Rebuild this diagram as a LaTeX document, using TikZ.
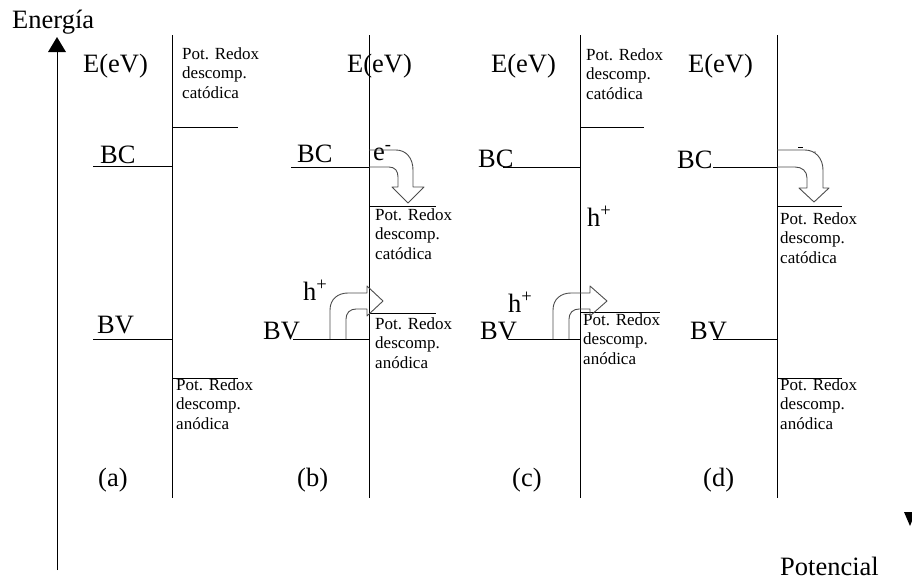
\documentclass[tikz,border=0pt]{standalone}
\usepackage{fontspec}
\setmainfont{Liberation Serif}
\begin{document}
\begin{tikzpicture}[x=1pt,y=-1pt,
  big/.style={font=\fontsize{26.5}{30}\selectfont, inner sep=0pt, anchor=base west},
  small/.style={font=\fontsize{17}{19.5}\selectfont, inner sep=0pt, anchor=north west, align=left},
  lvl/.style={line width=1pt, black},
  blockarrow/.style={line width=0.9pt, black!70, line join=round}
]
\useasboundingbox (0,0) rectangle (912,579);

% main axis
\draw[lvl] (57,570) -- (57,50);
\fill (48,52) -- (57,37) -- (66,52) -- cycle;
\node[big] (energia) at (12,28) {Energía};
\node[big] (potencial) at (780,575) {Potencial};
\fill (904,512) -- (912,512) -- (912,521) -- (910,526) -- cycle;

% ---------- panel (a)
\draw[lvl] (172,35) -- (172,498);
\node[big] (Ea) at (83,72) {E(eV)};
\node[small] (ra1) at (182,47) {Pot. Redox\\descomp.\\catódica};
\draw[lvl] (172,127) -- (238,127);
\draw[lvl] (93,166) -- (172,166);
\node[big] (BCa) at (100,163) {BC};
\draw[lvl] (93,339) -- (172,339);
\node[big] (BVa) at (97,333) {BV};
\draw[lvl] (172,378) -- (238,378);
\node[small] (ra2) at (176,378) {Pot. Redox\\descomp.\\anódica};
\node[big] (la) at (98,486) {(a)};

% ---------- panel (b)
\draw[lvl] (369,35) -- (369,498);
\node[big] (Eb) at (347,72) {E(eV)};
\draw[lvl] (291,167) -- (369,167);
\node[big] (BCb) at (297,162) {BC};
\node[big] (eb) at (373,160) {e\textsuperscript{-}};
\draw[blockarrow] (369,150) -- (396,150) .. controls (406,150) and (413,158) .. (413,170)
  -- (413,187) -- (424,187) -- (408,203) -- (392,187) -- (398,187) -- (398,177)
  .. controls (398,171) and (395,167) .. (389,167) -- (369,167);
\draw[lvl] (369,206) -- (436,206);
\node[small] (rb1) at (375,208) {Pot. Redox\\descomp.\\catódica};
\draw[lvl] (369,313) -- (436,313);
\node[small] (rb2) at (375,317) {Pot. Redox\\descomp.\\anódica};
\draw[lvl] (293,339) -- (369,339);
\node[big] (BVb) at (263,339) {BV};
\node[big] (hb) at (303,300) {h\textsuperscript{+}};
\draw[blockarrow] (330,339) -- (330,310) .. controls (330,299) and (338,293) .. (348,293)
  -- (367,293) -- (367,286) -- (383,301) -- (367,316) -- (367,309) -- (356,309)
  .. controls (350,309) and (346,313) .. (346,319) -- (346,339);
\node[big] (lb) at (297,486) {(b)};

% ---------- panel (c)
\draw[lvl] (580,35) -- (580,498);
\node[big] (Ec) at (491,72) {E(eV)};
\node[small] (rc1) at (586,48) {Pot. Redox\\descomp.\\catódica};
\draw[lvl] (580,127) -- (644,127);
\draw[lvl] (503,167) -- (580,167);
\node[big] (BCc) at (478,167) {BC};
\node[big] (hc1) at (587,226) {h\textsuperscript{+}};
\draw[lvl] (580,312) -- (660,312);
\node[small] (rc2) at (583,313) {Pot. Redox\\descomp.\\anódica};
\draw[lvl] (508,339) -- (580,339);
\node[big] (BVc) at (480,339) {BV};
\node[big] (hc2) at (508,312) {h\textsuperscript{+}};
\begin{scope}[xshift=223pt]
\draw[blockarrow] (330,339) -- (330,310) .. controls (330,299) and (338,293) .. (348,293)
  -- (367,293) -- (367,286) -- (384,301) -- (367,316) -- (367,309) -- (356,309)
  .. controls (350,309) and (346,313) .. (346,319) -- (346,339);
\end{scope}
\node[big] (lc) at (512,486) {(c)};

% ---------- panel (d)
\draw[lvl] (777,35) -- (777,498);
\node[big] (Ed) at (688,72) {E(eV)};
\draw[lvl] (713,167) -- (777,167);
\node[big] (BCd) at (677,168) {BC};
\draw[line width=0.6pt] (798,147.5) -- (803,147.5);
\fill (815,152) circle (0.6);
\draw[blockarrow] (777,150) -- (805,150) .. controls (815,150) and (823,158) .. (823,170)
  -- (823,188) -- (829,188) -- (814,202) -- (799,188) -- (807,188) -- (807,178)
  .. controls (807,171) and (802,167) .. (795,167) -- (777,167);
\draw[lvl] (777,206) -- (842,206);
\node[small] (rd1) at (780,212) {Pot. Redox\\descomp.\\catódica};
\draw[lvl] (713,339) -- (777,339);
\node[big] (BVd) at (690,339) {BV};
\draw[lvl] (777,378) -- (842,378);
\node[small] (rd2) at (780,378) {Pot. Redox\\descomp.\\anódica};
\node[big] (ld) at (703,486) {(d)};
\end{tikzpicture}
\end{document}
